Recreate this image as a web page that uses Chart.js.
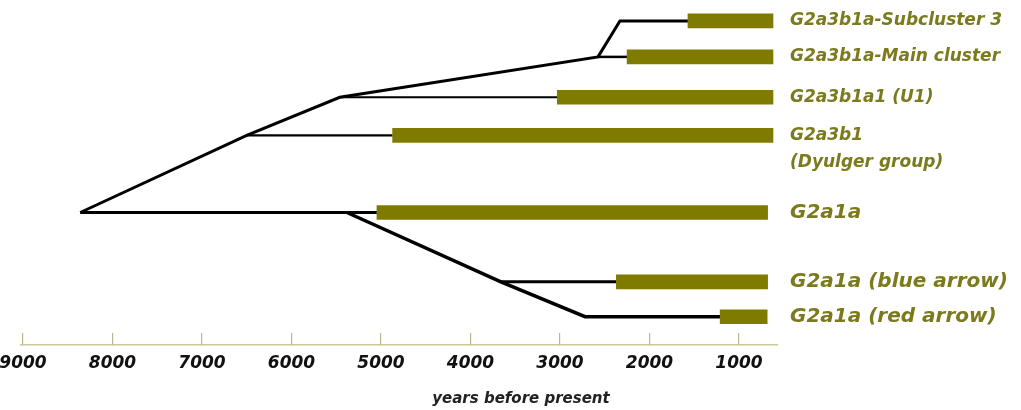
<!DOCTYPE html>
<html>
<head>
<meta charset="utf-8">
<title>G2a haplogroup tree</title>
<script src="https://cdn.jsdelivr.net/npm/chart.js@4/dist/chart.umd.min.js"></script>
<style>
  html, body { margin: 0; padding: 0; background: #fff; }
  #wrap { width: 1021px; height: 410px; position: relative; }
</style>
</head>
<body>
<div id="wrap"><canvas id="treeChart"></canvas></div>
<script>
// ---- data (years before present) ----
const groups   = ['G2a3b1a-Subcluster 3', 'G2a3b1a-Main cluster', 'G2a3b1a1 (U1)', 'G2a3b1', 'G2a1a', 'G2a1a (blue arrow)', 'G2a1a (red arrow)']
const groupNote = ['', '', '', '(Dyulger group)', '', '', '']
const rowLevel = [0.57, 1.55, 2.65, 3.69, 5.79, 7.68, 8.63]
const barFrom  = [1570, 2250, 3030, 4870, 5045, 2370, 1210]
const barTo    = [620, 620, 620, 620, 680, 680, 685]
const tickYears = [9000, 8000, 7000, 6000, 5000, 4000, 3000, 2000, 1000]

// tree branches: [age, row index] per point
const branchPaths = [
  [[8360, 4], [6500, 3], [5460, 2], [2575, 1], [2330, 0], [1570, 0]],
  [[2575, 1], [2250, 1]],
  [[5460, 2], [3030, 2]],
  [[6500, 3], [4870, 3]],
  [[8360, 4], [5045, 4]],
  [[5380, 4], [3660, 5], [2720, 6], [1210, 6]],
  [[3660, 5], [2370, 5]],
]
const branchWidth = [3, 2.5, 2.2, 2.2, 3, 3.5, 3]

const OLIVE = '#7f7b00'
const LABEL = '#7b7a1c'
const NOTE_OFFSET = 0.74

// y-axis labels: each group on its row, plus the note line under it
const yTicks = []
groups.forEach((g, i) => {
  yTicks.push({ value: rowLevel[i], label: g, big: i >= 4 })
  if (groupNote[i]) yTicks.push({ value: rowLevel[i] + NOTE_OFFSET, label: groupNote[i], big: false })
})

const datasets = [{
  type: 'bar',
  data: groups.map((g, i) => ({ x: [barFrom[i], barTo[i]], y: rowLevel[i] })),
  backgroundColor: OLIVE,
  borderWidth: 0,
  barThickness: 14,
  order: 0,
}]

branchPaths.forEach((path, k) => {
  datasets.push({
    type: 'line',
    data: path.map(([age, r]) => ({ x: age, y: rowLevel[r] })),
    borderColor: '#000',
    borderWidth: branchWidth[k],
    pointRadius: 0,
    tension: 0,
    fill: false,
    order: 1,
  })
})

new Chart(document.getElementById('treeChart'), {
  type: 'bar',
  data: { datasets },
  options: {
    indexAxis: 'y',
    responsive: true,
    maintainAspectRatio: false,
    animation: false,
    layout: { padding: { left: 21, right: 0, top: 0, bottom: 0 } },
    plugins: {
      legend: { display: false },
      tooltip: { enabled: false },
      title: {
        display: true,
        position: 'bottom',
        text: 'years before present',
        color: '#222',
        font: { family: 'DejaVu Sans', size: 15, weight: 'bold', style: 'italic' },
        padding: { top: 0, bottom: 2 },
      },
    },
    scales: {
      x: {
        type: 'linear',
        reverse: true,
        offset: false,
        min: 564,
        max: 9022,
        afterBuildTicks: s => { s.ticks = tickYears.map(v => ({ value: v })) },
        afterFit: s => { s.height = 45; s.paddingLeft = 0; s.paddingRight = 0 },
        border: { display: true, color: '#c9c99c', width: 1.5 },
        grid: { drawOnChartArea: false, drawTicks: true, tickLength: -12, color: '#b8b88e', lineWidth: 1.2, offset: false },
        ticks: {
          autoSkip: false,
          maxRotation: 0,
          padding: 20,
          color: '#111',
          font: { family: 'DejaVu Sans', size: 17, weight: 'bold', style: 'italic' },
          callback: v => String(v),
        },
      },
      y: {
        type: 'linear',
        position: 'right',
        reverse: true,
        offset: false,
        min: 0,
        max: 9.4,
        afterBuildTicks: s => { s.ticks = yTicks.map(t => ({ value: t.value })) },
        afterFit: s => { s.width = 243; s.paddingTop = 0; s.paddingBottom = 0 },
        border: { display: false },
        grid: { display: false, drawTicks: false, offset: false },
        ticks: {
          autoSkip: false,
          padding: 12,
          color: LABEL,
          font: c => ({ family: 'DejaVu Sans', weight: 'bold', style: 'italic', size: yTicks[c.index] && yTicks[c.index].big ? 20 : 17 }),
          callback: (v, i) => yTicks[i] ? yTicks[i].label : '',
        },
      },
    },
  },
})
</script>
</body>
</html>
